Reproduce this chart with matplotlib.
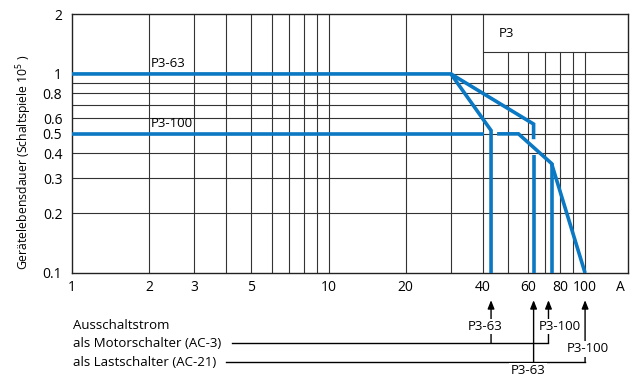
import matplotlib.pyplot as plt
from matplotlib.transforms import blended_transform_factory

plt.rcParams['font.family'] = ['Open Sans', 'DejaVu Sans']
plt.rcParams['mathtext.fontset'] = 'custom'
plt.rcParams['mathtext.rm'] = 'Open Sans'
plt.rcParams['mathtext.default'] = 'regular'

# Achsen / Raster
x_ticks = [1, 2, 3, 5, 10, 20, 40, 60, 80, 100, 137]
x_labels = ['1', '2', '3', '5', '10', '20', '40', '60', '80', '100', 'A']
y_ticks = [0.1, 0.2, 0.3, 0.4, 0.5, 0.6, 0.8, 1, 2]
y_labels = ['0.1', '0.2', '0.3', '0.4', '0.5', '0.6', '0.8', '1', '2']
x_grid_full = [2, 3, 4, 5, 6, 7, 8, 9, 10, 20, 30, 40]
x_grid_p3 = [50, 60, 70, 80, 90, 100]
y_grid = [0.2, 0.3, 0.4, 0.5, 0.6, 0.7, 0.8, 0.9, 1]

# P3-63 Kennlinien
p63_ac3_x = [1, 30, 43, 43]
p63_ac3_y = [1, 1, 0.52, 0.1]
p63_ac21_x = [30, 63, 63]
p63_ac21_y = [1, 0.56, 0.47]
p63_ac21_low_x = [63, 63]
p63_ac21_low_y = [0.39, 0.1]

# P3-100 Kennlinien
p100_left_x = [1, 40.4]
p100_left_y = [0.5, 0.5]
p100_x = [45.4, 55, 74, 100]
p100_y = [0.5, 0.5, 0.355, 0.1]
p100_ac3_x = [74, 74]
p100_ac3_y = [0.355, 0.1]

# Ausschaltstrom-Pfeile
ac3_arrows = [43, 72]
ac3_names = ['P3-63', 'P3-100']
ac21_arrows = [63, 100]
ac21_names = ['P3-63', 'P3-100']

blue = '#0a78c3'
gridc = '#333333'
xmax = 147

fig = plt.figure(figsize=(6.42, 3.78), dpi=100)
ax = fig.add_axes([72 / 642, 1 - 273 / 378, 556 / 642, 259 / 378])
ax.set_xscale('log')
ax.set_yscale('log')
ax.set_xlim(1, xmax)
ax.set_ylim(0.1, 2)

tr = blended_transform_factory(ax.transData, ax.transAxes)

# Raster
for x in x_grid_full:
    ax.axvline(x, color=gridc, lw=0.8, zorder=1)
for x in x_grid_p3:
    ax.axvline(x, ymax=0.853, color=gridc, lw=0.8, zorder=1)
for y in y_grid:
    ax.axhline(y, color=gridc, lw=0.8, zorder=1)
# Kasten "P3"
ax.plot([40, xmax], [0.853, 0.853], color=gridc, lw=0.8, transform=tr, zorder=1)
ax.text(46, 0.923, 'P3', transform=tr, fontsize=9.5, va='center', ha='left')

# Kennlinien
kw = dict(color=blue, lw=2.6, solid_capstyle='butt', solid_joinstyle='miter', zorder=3)
ax.plot(p63_ac3_x, p63_ac3_y, **kw)
ax.plot(p63_ac21_x, p63_ac21_y, **kw)
ax.plot(p63_ac21_low_x, p63_ac21_low_y, **kw)
ax.plot(p100_left_x, p100_left_y, **kw)
ax.plot(p100_x, p100_y, **kw)
ax.plot(p100_ac3_x, p100_ac3_y, **kw)
ax.text(2.03, 1.05, 'P3-63', fontsize=9.5, va='bottom', ha='left')
ax.text(2.03, 0.525, 'P3-100', fontsize=9.5, va='bottom', ha='left')

# Achsen-Beschriftung
ax.set_xticks(x_ticks)
ax.set_xticklabels(x_labels)
ax.set_yticks(y_ticks)
ax.set_yticklabels(y_labels)
ax.minorticks_off()
ax.tick_params(axis='both', length=0, labelsize=10)
ax.tick_params(axis='x', pad=5)
ax.tick_params(axis='y', pad=7)
for s in ax.spines.values():
    s.set_color('#222222')
    s.set_linewidth(1.0)

fig.text(24 / 642, 1 - 162 / 378, 'Gerätelebensdauer (Schaltspiele 10$^{5}$ )',
         rotation=90, ha='center', va='center', fontsize=8.8)

# Ausschaltstrom-Schema unter der Achse
lk = dict(color='black', lw=1.0, clip_on=False, transform=tr)
y_ac3, y_ac21, y_tip = -0.270, -0.344, -0.105

ax.text(0.002, -0.201, 'Ausschaltstrom', transform=ax.transAxes, fontsize=9.5, va='center')
ax.text(0.002, -0.272, 'als Motorschalter (AC-3)', transform=ax.transAxes, fontsize=9.5, va='center')
ax.text(0.002, -0.344, 'als Lastschalter (AC-21)', transform=ax.transAxes, fontsize=9.5, va='center')

ax.plot([4.2, ac3_arrows[-1]], [y_ac3, y_ac3], **lk)
ax.plot([4.0, ac21_arrows[-1]], [y_ac21, y_ac21], **lk)

bb = dict(boxstyle='square,pad=0.1', fc='white', ec='none')
for x0, y0 in [(a, y_ac3) for a in ac3_arrows] + [(a, y_ac21) for a in ac21_arrows]:
    ax.annotate('', xy=(x0, y_tip), xytext=(x0, y0), xycoords=tr, textcoords=tr,
                arrowprops=dict(arrowstyle='-|>,head_length=0.5,head_width=0.2',
                                color='black', lw=1.0, shrinkA=0, shrinkB=0),
                annotation_clip=False, zorder=2)

ax.text(40.6, -0.207, ac3_names[0], transform=tr, ha='center', va='center', fontsize=9.5, bbox=bb, zorder=4)
ax.text(80, -0.207, ac3_names[1], transform=tr, ha='center', va='center', fontsize=9.5, bbox=bb, zorder=4)
ax.text(60, -0.377, ac21_names[0], transform=tr, ha='center', va='center', fontsize=9.5, bbox=bb, zorder=4)
ax.text(102.7, -0.293, ac21_names[1], transform=tr, ha='center', va='center', fontsize=9.5, bbox=bb, zorder=4)

fig.savefig('out.png', dpi=100)
